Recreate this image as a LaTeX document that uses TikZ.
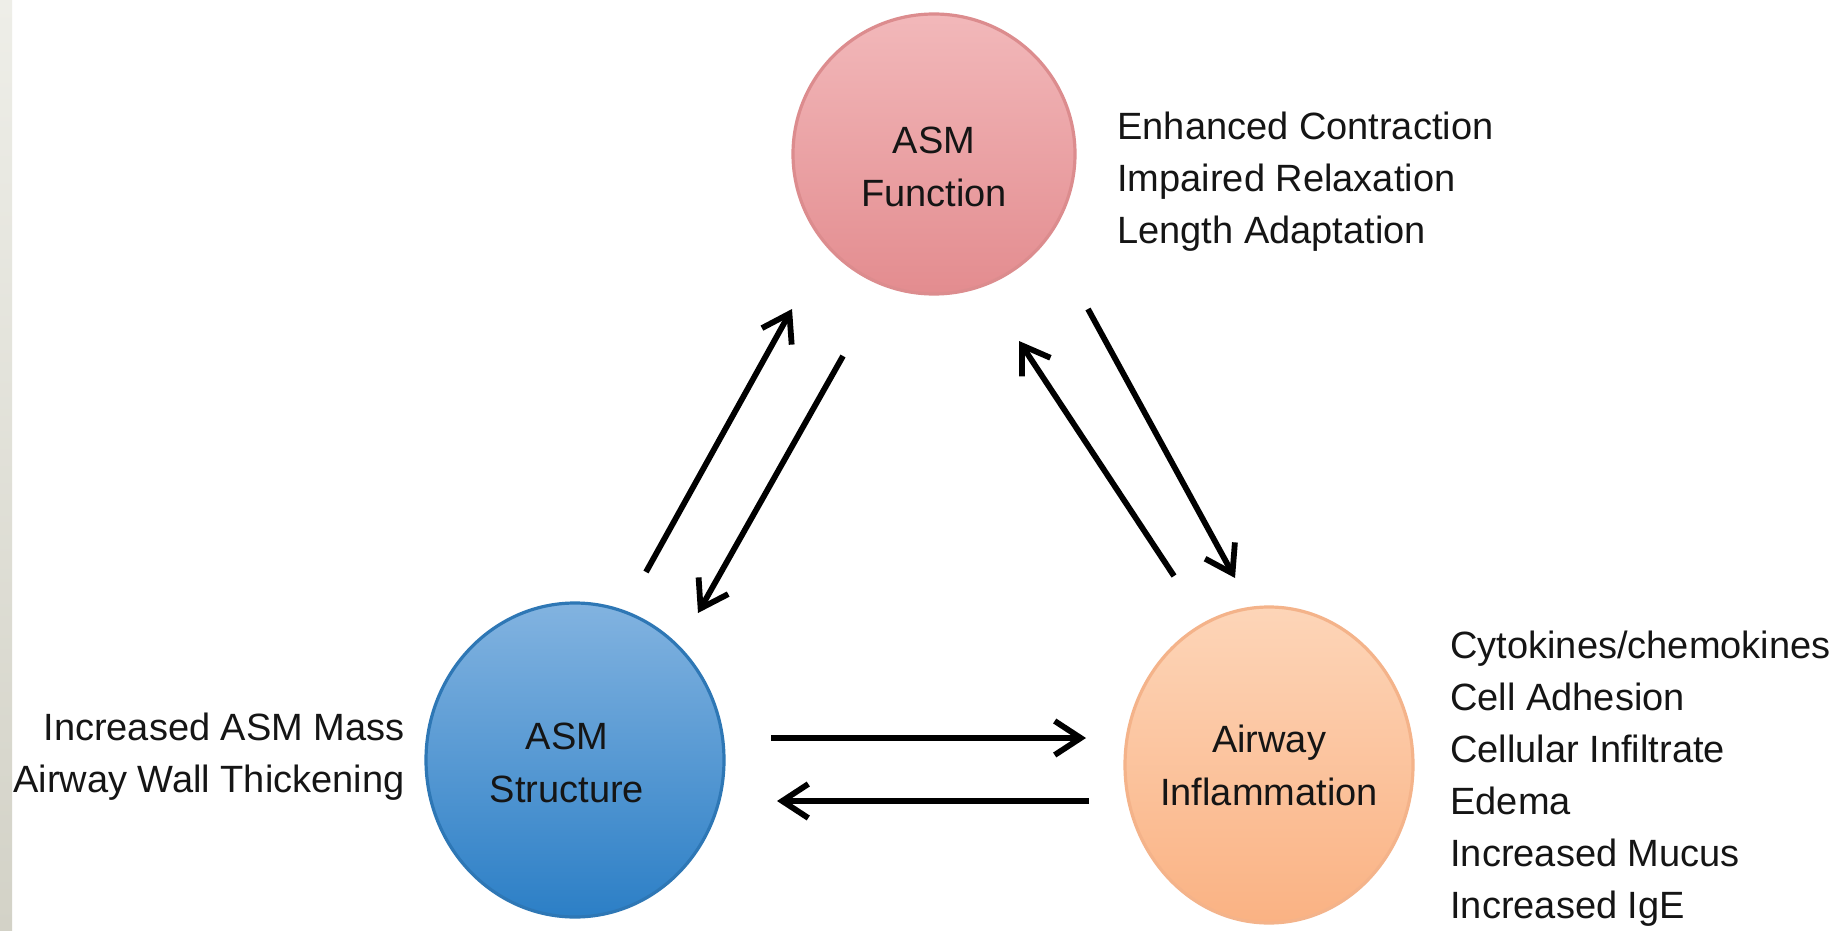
\documentclass[tikz,border=0pt]{standalone}
\usepackage{fontspec}
\setmainfont{Liberation Sans}
\usetikzlibrary{shapes.geometric,arrows.meta,calc}
\definecolor{pinkTop}{HTML}{F2B8BA}
\definecolor{pinkBot}{HTML}{E38C8F}
\definecolor{pinkLine}{HTML}{DC8C8E}
\definecolor{blueTop}{HTML}{82B3E0}
\definecolor{blueBot}{HTML}{2C7FC6}
\definecolor{blueLine}{HTML}{2E77B5}
\definecolor{orTop}{HTML}{FDD5B8}
\definecolor{orBot}{HTML}{FAB283}
\definecolor{orLine}{HTML}{F4B38A}
\definecolor{stripTop}{HTML}{EEEEE8}
\definecolor{stripBot}{HTML}{D3D2C7}
\definecolor{txt}{HTML}{151515}
\tikzset{
  bubble/.style={ellipse, inner sep=0pt, line width=1.6pt},
  bubbletext/.style={inner sep=0pt, align=center, text=txt, font=\fontsize{19}{26.5}\selectfont},
  listtext/.style={inner sep=0pt, text=txt, font=\fontsize{19}{26}\selectfont},
  link/.style={line width=2.9pt, -{Straight Barb[length=13pt,width=17pt]}},
}
\begin{document}
\begin{tikzpicture}[x=0.5pt,y=-0.5pt]
\useasboundingbox (0,0) rectangle (1831,931);
\fill[white] (0,0) rectangle (1831,931);
\shade[top color=stripTop, bottom color=stripBot] (0,0) rectangle (12,931);

\node[bubble, minimum width=141pt, minimum height=140pt, draw=pinkLine, top color=pinkTop, bottom color=pinkBot] (F) at (934,154) {};
\node[bubble, minimum width=149pt, minimum height=157pt, draw=blueLine, top color=blueTop, bottom color=blueBot] (S) at (575,760) {};
\node[bubble, minimum width=144pt, minimum height=158pt, draw=orLine, top color=orTop, bottom color=orBot] (I) at (1269,765) {};

\node[bubbletext] (Flab) at ($(F)+(0,13)$) {ASM\\Function};
\node[bubbletext] (Slab) at ($(S)+(-8,3)$) {ASM\\Structure};
\node[bubbletext] (Ilab) at ($(I)+(0,0)$) {Airway\\Inflammation};

\node[listtext, anchor=west, align=left] (Ftxt) at (1117,182) {Enhanced Contraction\\Impaired Relaxation\\Length Adaptation};
\node[listtext, anchor=east, align=right] (Stxt) at (405,757) {Increased ASM Mass\\Airway Wall Thickening};
\node[listtext, anchor=west, align=left] (Itxt) at (1450,779) {Cytokines/chemokines\\Cell Adhesion\\Cellular Infiltrate\\Edema\\Increased Mucus\\Increased IgE};

\coordinate (a1s) at (646,572);  \coordinate (a1e) at (792,309);
\coordinate (a2s) at (843,356);  \coordinate (a2e) at (698,613);
\coordinate (a3s) at (1174,576); \coordinate (a3e) at (1019,341);
\coordinate (a4s) at (1088,309); \coordinate (a4e) at (1235,578);
\coordinate (a5s) at (771,738);  \coordinate (a5e) at (1086,738);
\coordinate (a6s) at (1089,801); \coordinate (a6e) at (777,801);

\draw[link] (a1s) -- (a1e);
\draw[link] (a2s) -- (a2e);
\draw[link] (a3s) -- (a3e);
\draw[link] (a4s) -- (a4e);
\draw[link] (a5s) -- (a5e);
\draw[link] (a6s) -- (a6e);
\end{tikzpicture}
\end{document}
